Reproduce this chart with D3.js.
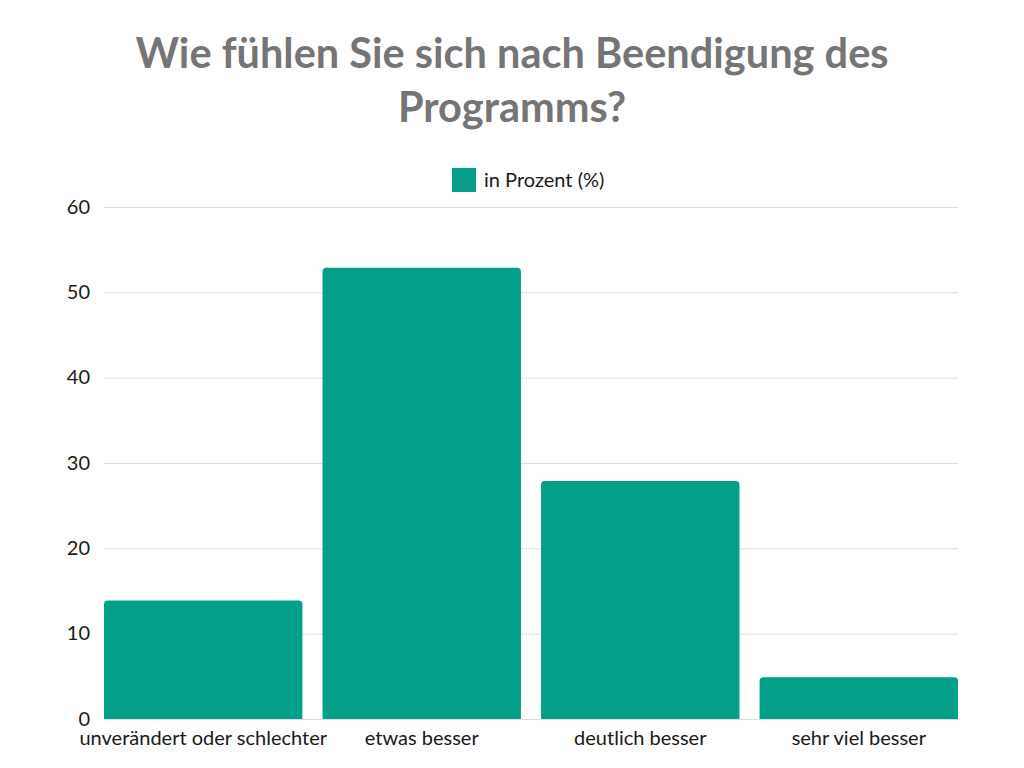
<!DOCTYPE html>
<html lang="en">
<head>
    <meta charset="UTF-8">
    <title>Wie fühlen Sie sich nach Beendigung des Programms?</title>
    <style>
        body { margin: 0; background: #fff; }
        svg text { font-family: Lato, sans-serif; }
        .title { font-size: 41.5px; font-weight: bold; fill: #757575; }
        .tick text { font-size: 20px; fill: #1a1a1a; }
        .grid line { stroke: #dcdcdc; stroke-width: 1px; }
    </style>
</head>
<body>
    <div id="chart"></div>
    <script src="https://d3js.org/d3.v7.min.js"></script>
    <script>
        const categories = ["unverändert oder schlechter", "etwas besser", "deutlich besser", "sehr viel besser"];
        const values = [14, 53, 28, 5];
        const yTicks = [0, 10, 20, 30, 40, 50, 60];
        const seriesName = "in Prozent (%)";
        const titleLines = ["Wie fühlen Sie sich nach Beendigung des", "Programms?"];

        const width = 1024, height = 768;
        const margin = { top: 207, right: 66, bottom: 49, left: 104 };
        const color = "#039f88";

        const svg = d3.select("#chart").append("svg")
            .attr("width", width)
            .attr("height", height);

        // title
        svg.selectAll(".title")
            .data(titleLines)
            .enter().append("text")
            .attr("class", "title")
            .attr("x", width / 2)
            .attr("y", (d, i) => 68 + i * 54)
            .attr("text-anchor", "middle")
            .text(d => d);

        // legend
        const legend = svg.append("g").attr("transform", "translate(452,168)");
        legend.append("rect").attr("width", 24).attr("height", 24).attr("fill", color);
        legend.append("text")
            .attr("x", 32).attr("y", 19)
            .style("font-size", "20px").style("fill", "#1a1a1a")
            .text(seriesName);

        const x = d3.scaleBand()
            .domain(categories)
            .range([margin.left, width - margin.right])
            .paddingInner(0.092)
            .paddingOuter(0);

        const y = d3.scaleLinear()
            .domain([0, 60])
            .range([height - margin.bottom, margin.top]);

        // gridlines
        svg.append("g")
            .attr("class", "grid")
            .selectAll("line")
            .data(yTicks)
            .enter().append("line")
            .attr("x1", margin.left)
            .attr("x2", width - margin.right)
            .attr("y1", d => y(d) + 0.5)
            .attr("y2", d => y(d) + 0.5);

        // y axis labels
        const yAxis = svg.append("g")
            .attr("transform", "translate(" + (margin.left - 14) + ",0)")
            .call(d3.axisLeft(y).tickValues(yTicks).tickSize(0).tickPadding(0));
        yAxis.select(".domain").remove();
        yAxis.selectAll("text").attr("dy", "0.3em");

        // bars with rounded top corners
        const r = 4;
        svg.selectAll(".bar")
            .data(values)
            .enter().append("path")
            .attr("class", "bar")
            .attr("fill", color)
            .attr("d", (d, i) => {
                const x0 = x(categories[i]), x1 = x0 + x.bandwidth();
                const y0 = y(0), y1 = y(d) + 1;
                return `M${x0},${y0}V${y1 + r}Q${x0},${y1} ${x0 + r},${y1}H${x1 - r}Q${x1},${y1} ${x1},${y1 + r}V${y0}Z`;
            });

        // x axis labels
        const xAxis = svg.append("g")
            .attr("transform", "translate(0," + (height - margin.bottom) + ")")
            .call(d3.axisBottom(x).tickSize(0).tickPadding(12));
        xAxis.select(".domain").remove();
    </script>
</body>
</html>
